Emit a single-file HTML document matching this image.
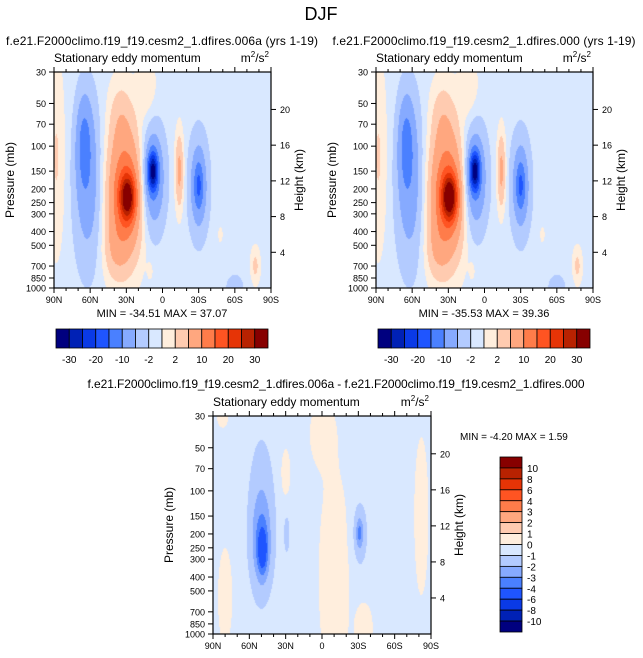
<!DOCTYPE html>
<html><head><meta charset="utf-8"><style>
body{margin:0;background:#fff;font-family:"Liberation Sans",sans-serif;}
#root{position:relative;width:643px;height:658px;overflow:hidden;background:#fff}
canvas{position:absolute}
svg{position:absolute;left:0;top:0}
</style></head><body>
<div id="root">
<canvas id="c1"></canvas>
<canvas id="c2"></canvas>
<canvas id="c3"></canvas>
<svg id="s" width="643" height="658"></svg>
</div>
<script>
// ---- data ----
const pressureTicks=[30,50,70,100,150,200,250,300,400,500,700,850,1000];
const heightTicks=[4,8,12,16,20];
const latLabels=["90N","60N","30N","0","30S","60S","90S"];
const levelsTop=[-30,-25,-20,-15,-10,-5,-2,0,2,5,10,15,20,25,30];
const levelsTopLabels=[-30,-20,-10,-2,2,10,20,30];
const levelsBot=[-10,-8,-6,-4,-3,-2,-1,0,1,2,3,4,6,8,10];
const colors=["#00007f","#0021b5","#0a3ae6","#1f55ff","#4a80ff","#86aaff","#b3cbff","#d9e8ff","#ffeedd","#ffcbb0","#ffa77f","#ff7c4a","#ff5422","#e63406","#b82201","#870000"];
// blobs: [lat, pressure, amplitude, latWidth, logpWidth]
const base1=-0.8;
const blobs1=[[29,230,24,6,0.35],[31,220,16,14,1.0],[40,550,3,10,0.5],[35,60,3,10,0.6],
[65,95,-8,6,0.7],[62,180,-7,11,1.3],
[8,150,-25,4,0.3],[8,170,-10,9.5,0.8],
[-14,150,7,3.5,0.6],
[-30,190,-9,4,0.4],[-30,190,-7,8,0.8],
[88,120,3,7,1.5],[13,40,2.5,8,0.5],[-77,700,3.5,4,0.3],[-48,420,1.2,3,0.2],[10,750,1.2,3,0.2],[-60,1000,-2,10,0.3]];
const base2=-0.8;
const blobs2=[[29,230,26,6,0.35],[31,220,16,14,1.0],[40,550,3,10,0.5],[35,60,3,10,0.6],
[65,95,-8,6,0.7],[62,180,-7,11,1.3],
[8,150,-26,4,0.3],[8,170,-10,9.5,0.8],
[-14,150,7,3.5,0.6],
[-30,190,-9,4,0.4],[-30,190,-7,8,0.8],
[88,120,3,7,1.5],[13,40,2.5,8,0.5],[-77,700,3.5,4,0.3],[-48,420,1.2,3,0.2],[10,750,1.2,3,0.2],[-60,1000,-2,10,0.3]];
const base3=-0.5;
const blobs3=[[49,265,-2.6,4,0.35],[50,230,-1.8,8,0.7],[50,150,-1.2,11,1.3],
[-31,197,-1.6,2.5,0.2],[-31,200,-1.5,6,0.5],[29,200,-0.8,3,0.4],
[-10,400,1.3,13,1.8],[0,40,1.3,10,0.5],[-82,150,1.3,6,1.3],[80,550,1.3,6,0.8],[30,75,1.3,4,0.4],[-35,900,1.3,7,0.4],[82,30,1.2,5,0.2]];
// ---- helpers ----
const L30=Math.log(30),LR=Math.log(1000/30);
function field(base,blobs,lat,p){let v=base,lp=Math.log(p);for(const b of blobs){const dl=(lat-b[0])/b[3],dp=(lp-Math.log(b[1]))/b[4];v+=b[2]*Math.exp(-dl*dl-dp*dp);}return v;}
function colorIdx(v,lev){let i=0;while(i<lev.length&&v>=lev[i])i++;return i;}
function hex(c){return[parseInt(c.substr(1,2),16),parseInt(c.substr(3,2),16),parseInt(c.substr(5,2),16)];}
const rgb=colors.map(hex);
function drawField(id,x,y,w,h,base,blobs,lev){const c=document.getElementById(id);c.width=w;c.height=h;c.style.left=x+'px';c.style.top=y+'px';
const ctx=c.getContext('2d'),im=ctx.createImageData(w,h);
for(let j=0;j<h;j++){const p=Math.exp(L30+(j+0.5)/h*LR);for(let i=0;i<w;i++){const lat=90-180*(i+0.5)/w;const k=colorIdx(field(base,blobs,lat,p),lev);const o=(j*w+i)*4;im.data[o]=rgb[k][0];im.data[o+1]=rgb[k][1];im.data[o+2]=rgb[k][2];im.data[o+3]=255;}}
ctx.putImageData(im,0,0);}
const S=document.getElementById('s');const NS='http://www.w3.org/2000/svg';
function el(tag,attrs,txt){const e=document.createElementNS(NS,tag);for(const k in attrs)e.setAttribute(k,attrs[k]);if(txt!==undefined)e.textContent=txt;S.appendChild(e);return e;}
function txt(x,y,s,size,anchor,name,rot){const e=el('text',{x:x,y:y,'font-size':size,'text-anchor':anchor||'middle','font-family':'Liberation Sans, sans-serif'},s);
if(rot)e.setAttribute('transform','rotate(-90 '+x+' '+y+')');

return e;}
function yOf(p,y,h){return y+(Math.log(p)-L30)/LR*h;}
function axes(x,y,w,h,pre){
 const r=el('rect',{x:x,y:y,width:w,height:h,fill:'none',stroke:'#000','stroke-width':1.2});
 
 
 pressureTicks.forEach(p=>{const yy=yOf(p,y,h);el('line',{x1:x-5,x2:x,y1:yy,y2:yy,stroke:'#000'});txt(x-8,yy+3.5,String(p),9,'end',pre+'-pressure-tick');});
 heightTicks.forEach(z=>{const p=1000*Math.exp(-z/6.9);const yy=yOf(p,y,h);el('line',{x1:x+w,x2:x+w+5,y1:yy,y2:yy,stroke:'#000'});txt(x+w+9,yy+3.5,String(z),9,'start',pre+'-height-tick');});
 for(let d=0;d<=180;d+=10){const xx=x+d/180*w;const big=d%30==0;el('line',{x1:xx,x2:xx,y1:y+h,y2:y+h+(big?5:3),stroke:'#000'});el('line',{x1:xx,x2:xx,y1:y,y2:y-(big?5:3),stroke:'#000'});}
 latLabels.forEach((s,i)=>txt(x+i*w/6,y+h+15,s,9,'middle',pre+'-lat-label'));
 txt(x-40,y+h/2,'Pressure (mb)',12,'middle',pre+'-y-axis-title',true);
 txt(x+w+32,y+h/2,'Height (km)',12,'middle',pre+'-y2-axis-title',true);
 txt(x,y-10,'Stationary eddy momentum',12,'start',pre+'-subtitle');
 const u=txt(x+w-2,y-10,'m',12,'end',pre+'-units');u.innerHTML='m<tspan font-size="8" dy="-5">2</tspan><tspan dy="5">/s</tspan><tspan font-size="8" dy="-5">2</tspan>';
}
function hbar(x,y,w,h,pre){const n=colors.length,bw=w/n;colors.forEach((c,i)=>{const r=el('rect',{x:x+i*bw,y:y,width:bw,height:h,fill:c,stroke:'#000','stroke-width':0.8});});
 levelsTop.forEach((v,i)=>{if(levelsTopLabels.includes(v))txt(x+(i+1)*bw,y+h+15,String(v),10,'middle',pre+'-colorbar-label');});}
// ---- draw ----
drawField('c1',54,72,217,216,base1,blobs1,levelsTop);
drawField('c2',376,72,217,216,base2,blobs2,levelsTop);
drawField('c3',213,416,218,218,base3,blobs3,levelsBot);
txt(321,20,'DJF',18,'middle','figure-title');
const t1=txt(162,45,'f.e21.F2000climo.f19_f19.cesm2_1.dfires.006a (yrs 1-19)',12,'middle','panel1-title');t1.setAttribute('textLength','312');
const t2=txt(484,45,'f.e21.F2000climo.f19_f19.cesm2_1.dfires.000 (yrs 1-19)',12,'middle','panel2-title');t2.setAttribute('textLength','303');
const t3=txt(336,388,'f.e21.F2000climo.f19_f19.cesm2_1.dfires.006a - f.e21.F2000climo.f19_f19.cesm2_1.dfires.000',12,'middle','panel3-title');t3.setAttribute('textLength','497');
axes(54,72,217,216,'panel1');axes(376,72,217,216,'panel2');axes(213,416,218,218,'panel3');
txt(162,317,'MIN = -34.51  MAX =  37.07',11,'middle','panel1-minmax');
txt(484,317,'MIN = -35.53  MAX =  39.36',11,'middle','panel2-minmax');
txt(460,440,'MIN =  -4.20  MAX =   1.59',10,'start','panel3-minmax');
hbar(56,329,212,19,'panel1');hbar(378,329,212,19,'panel2');
// vertical colorbar
(function(){const x=500,y=457,w=22,h=175,n=colors.length,bh=h/n;
 colors.slice().reverse().forEach((c,i)=>{const r=el('rect',{x:x,y:y+i*bh,width:w,height:bh,fill:c,stroke:'#000','stroke-width':0.8});});
 levelsBot.slice().reverse().forEach((v,i)=>txt(x+w+5,y+(i+1)*bh+4,String(v),10,'start','panel3-colorbar-label'));})();
</script>
</body></html>
